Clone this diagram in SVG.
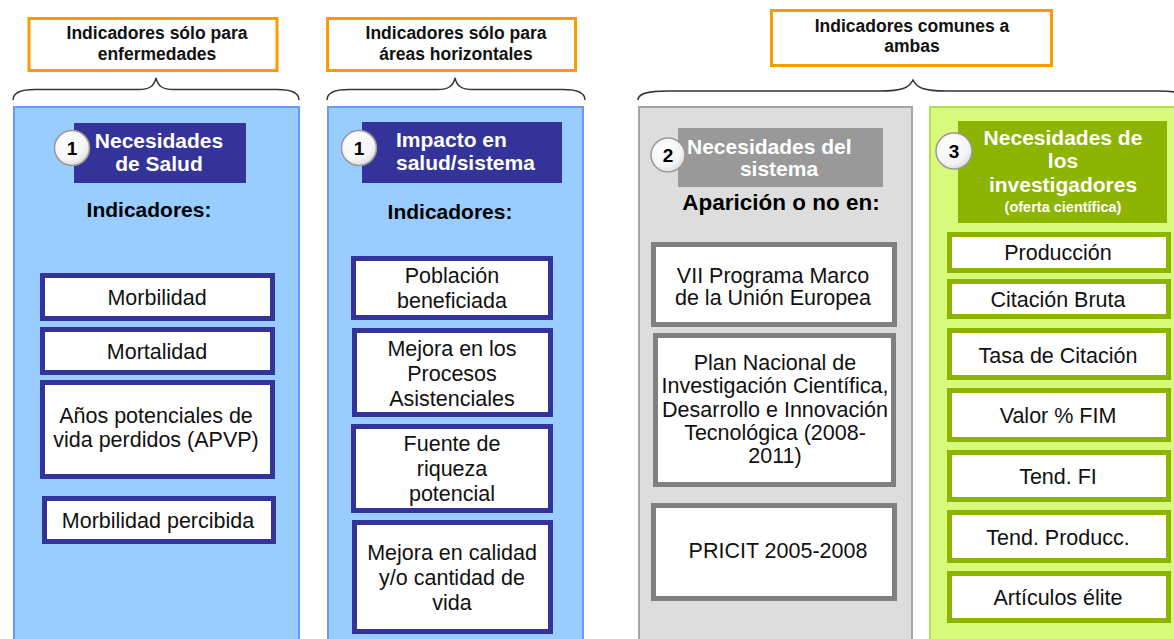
<svg xmlns="http://www.w3.org/2000/svg" width="1174" height="639" viewBox="0 0 1174 639">
<defs>
<radialGradient id="cg" cx="0.4" cy="0.35" r="0.7">
<stop offset="0" stop-color="#ffffff"/>
<stop offset="0.7" stop-color="#f4f4f4"/>
<stop offset="1" stop-color="#d8d8d8"/>
</radialGradient>
</defs>
<style>
text{font-family:"Liberation Sans",Arial,sans-serif;}
.top{fill:#fff;stroke:#FF9900;stroke-width:3;}
.tt{font-size:17.5px;font-weight:bold;fill:#111;text-anchor:middle;}
.brace{fill:none;stroke:#333;stroke-width:1.5;}
.pblue{fill:#99CCFF;stroke:#6699FF;stroke-width:2;}
.pgray{fill:#DDDDDD;stroke:#A6A6A6;stroke-width:2;}
.pgreen{fill:#D8FA7A;stroke:#B4DC55;stroke-width:2;}
.hb{fill:#333399;}
.hg{fill:#999999;}
.hgr{fill:#8DB400;}
.ht{font-size:21px;font-weight:bold;fill:#fff;}
.circ{fill:url(#cg);stroke:#999;stroke-width:1.5;}
.num{font-size:19px;font-weight:bold;fill:#000;text-anchor:middle;}
.sub{font-size:21px;font-weight:bold;fill:#000;text-anchor:middle;}
.ib{fill:#fff;stroke:#333399;stroke-width:5;}
.ig{fill:#fff;stroke:#808080;stroke-width:5;}
.igr{fill:#fff;stroke:#8DB400;stroke-width:5;}
.it{font-size:21.5px;fill:#111;text-anchor:middle;}
</style>

<g id="label-enfermedades">
<rect class="top" x="29" y="18.5" width="248" height="52"/>
<text class="tt" x="157" y="39">Indicadores sólo para</text>
<text class="tt" x="157" y="60">enfermedades</text>
</g>
<g id="label-horizontales">
<rect class="top" x="327.5" y="18.5" width="248" height="52"/>
<text class="tt" x="456" y="39">Indicadores sólo para</text>
<text class="tt" x="456" y="60">áreas horizontales</text>
</g>
<g id="label-comunes">
<rect class="top" x="771.5" y="10.5" width="280" height="55"/>
<text class="tt" x="912" y="32">Indicadores comunes a</text>
<text class="tt" x="912" y="52">ambas</text>
</g>

<g id="connectors">
<path class="brace" d="M13,100 C13,93 19,89.5 35,89.5 L138,89.5 C150,89.5 154,86 156,78 C158,86 162,89.5 174,89.5 L277,89.5 C293,89.5 299,93 299,100"/>
<path class="brace" d="M327,100 C327,93 333,89.5 349,89.5 L437,89.5 C449,89.5 453,86 455,78 C457,86 461,89.5 473,89.5 L563,89.5 C579,89.5 585,93 585,100"/>
<path class="brace" d="M638,100 C638,94 646,91 668,91 L880,91 C902,91 909,88 913,80 C917,88 924,91 946,91 L1158,91 C1180,91 1188,94 1188,100"/>
</g>

<g id="panel-salud">
<rect class="pblue" x="14" y="107" width="285" height="545"/>
<rect class="hb" x="74" y="123" width="172" height="60"/>
<text class="ht" x="159" y="148" text-anchor="middle">Necesidades</text>
<text class="ht" x="159" y="171" text-anchor="middle">de Salud</text>
<circle class="circ" cx="72" cy="148" r="17.5"/>
<text class="num" x="72" y="155">1</text>
<text class="sub" x="149" y="217">Indicadores:</text>
</g>
<g id="item-morbilidad"><rect class="ib" x="42.5" y="275.5" width="230" height="43"/><text class="it" x="157" y="305">Morbilidad</text></g>
<g id="item-mortalidad"><rect class="ib" x="42.5" y="329.5" width="230" height="43"/><text class="it" x="157" y="359">Mortalidad</text></g>
<g id="item-apvp"><rect class="ib" x="42.5" y="382.5" width="230" height="94"/><text class="it" x="156" y="423">Años potenciales de</text><text class="it" x="156" y="447">vida perdidos (APVP)</text></g>
<g id="item-morb-percibida"><rect class="ib" x="44.5" y="498.5" width="229" height="43"/><text class="it" x="158" y="528">Morbilidad percibida</text></g>

<g id="panel-impacto">
<rect class="pblue" x="328" y="107" width="255" height="545"/>
<rect class="hb" x="362" y="122" width="200" height="61"/>
<text class="ht" x="396" y="147">Impacto en</text>
<text class="ht" x="396" y="170">salud/sistema</text>
<circle class="circ" cx="359" cy="148" r="17.5"/>
<text class="num" x="359" y="155">1</text>
<text class="sub" x="450" y="219">Indicadores:</text>
</g>
<g id="item-poblacion"><rect class="ib" x="353.5" y="258.5" width="197" height="59"/><text class="it" x="452" y="283">Población</text><text class="it" x="452" y="308">beneficiada</text></g>
<g id="item-procesos"><rect class="ib" x="354.5" y="330.5" width="196" height="84"/><text class="it" x="452" y="356">Mejora en los</text><text class="it" x="452" y="381">Procesos</text><text class="it" x="452" y="406">Asistenciales</text></g>
<g id="item-riqueza"><rect class="ib" x="353.5" y="426.5" width="197" height="84"/><text class="it" x="452" y="451">Fuente de</text><text class="it" x="452" y="476">riqueza</text><text class="it" x="452" y="501">potencial</text></g>
<g id="item-calidad"><rect class="ib" x="354.5" y="522.5" width="196" height="109"/><text class="it" x="452" y="560">Mejora en calidad</text><text class="it" x="452" y="585">y/o cantidad de</text><text class="it" x="452" y="610">vida</text></g>

<g id="panel-sistema">
<rect class="pgray" x="639" y="107" width="273" height="545"/>
<rect class="hg" x="678" y="128" width="205" height="59"/>
<text class="ht" x="687" y="154">Necesidades del</text>
<text class="ht" x="779" y="176" text-anchor="middle">sistema</text>
<circle class="circ" cx="668" cy="155" r="17"/>
<text class="num" x="668" y="162">2</text>
<text class="sub" x="781" y="210" style="font-size:22.5px">Aparición o no en:</text>
</g>
<g id="item-vii"><rect class="ig" x="653.5" y="244.5" width="241" height="80"/><text class="it" x="773" y="283">VII Programa Marco</text><text class="it" x="773" y="305">de la Unión Europea</text></g>
<g id="item-plan"><rect class="ig" x="655.5" y="335.5" width="238" height="149"/><text class="it" x="775" y="370">Plan Nacional de</text><text class="it" x="775" y="393">Investigación Científica,</text><text class="it" x="775" y="417">Desarrollo e Innovación</text><text class="it" x="775" y="440">Tecnológica (2008-</text><text class="it" x="775" y="463">2011)</text></g>
<g id="item-pricit"><rect class="ig" x="653.5" y="505.5" width="241" height="93"/><text class="it" x="778" y="558">PRICIT 2005-2008</text></g>

<g id="panel-investigadores">
<rect class="pgreen" x="930" y="107" width="260" height="545"/>
<rect class="hgr" x="958" y="121" width="209" height="102"/>
<text class="ht" x="1063" y="145" text-anchor="middle">Necesidades de</text>
<text class="ht" x="1063" y="168" text-anchor="middle">los</text>
<text class="ht" x="1063" y="192" text-anchor="middle">investigadores</text>
<text class="ht" x="1063" y="212" text-anchor="middle" style="font-size:14.5px">(oferta científica)</text>
<circle class="circ" cx="954" cy="151" r="18"/>
<text class="num" x="954" y="158">3</text>
</g>
<g id="item-produccion"><rect class="igr" x="949.5" y="234.5" width="219" height="36"/><text class="it" x="1058" y="260">Producción</text></g>
<g id="item-citacion-bruta"><rect class="igr" x="949.5" y="281.5" width="219" height="35"/><text class="it" x="1058" y="307">Citación Bruta</text></g>
<g id="item-tasa"><rect class="igr" x="949.5" y="330.5" width="219" height="47"/><text class="it" x="1058" y="363">Tasa de Citación</text></g>
<g id="item-valor"><rect class="igr" x="949.5" y="390.5" width="219" height="49"/><text class="it" x="1058" y="423">Valor % FIM</text></g>
<g id="item-tend-fi"><rect class="igr" x="949.5" y="452.5" width="219" height="47"/><text class="it" x="1058" y="484">Tend. FI</text></g>
<g id="item-tend-prod"><rect class="igr" x="949.5" y="512.5" width="219" height="48"/><text class="it" x="1058" y="545">Tend. Producc.</text></g>
<g id="item-articulos"><rect class="igr" x="949.5" y="573.5" width="219" height="47"/><text class="it" x="1058" y="605">Artículos élite</text></g>
</svg>
